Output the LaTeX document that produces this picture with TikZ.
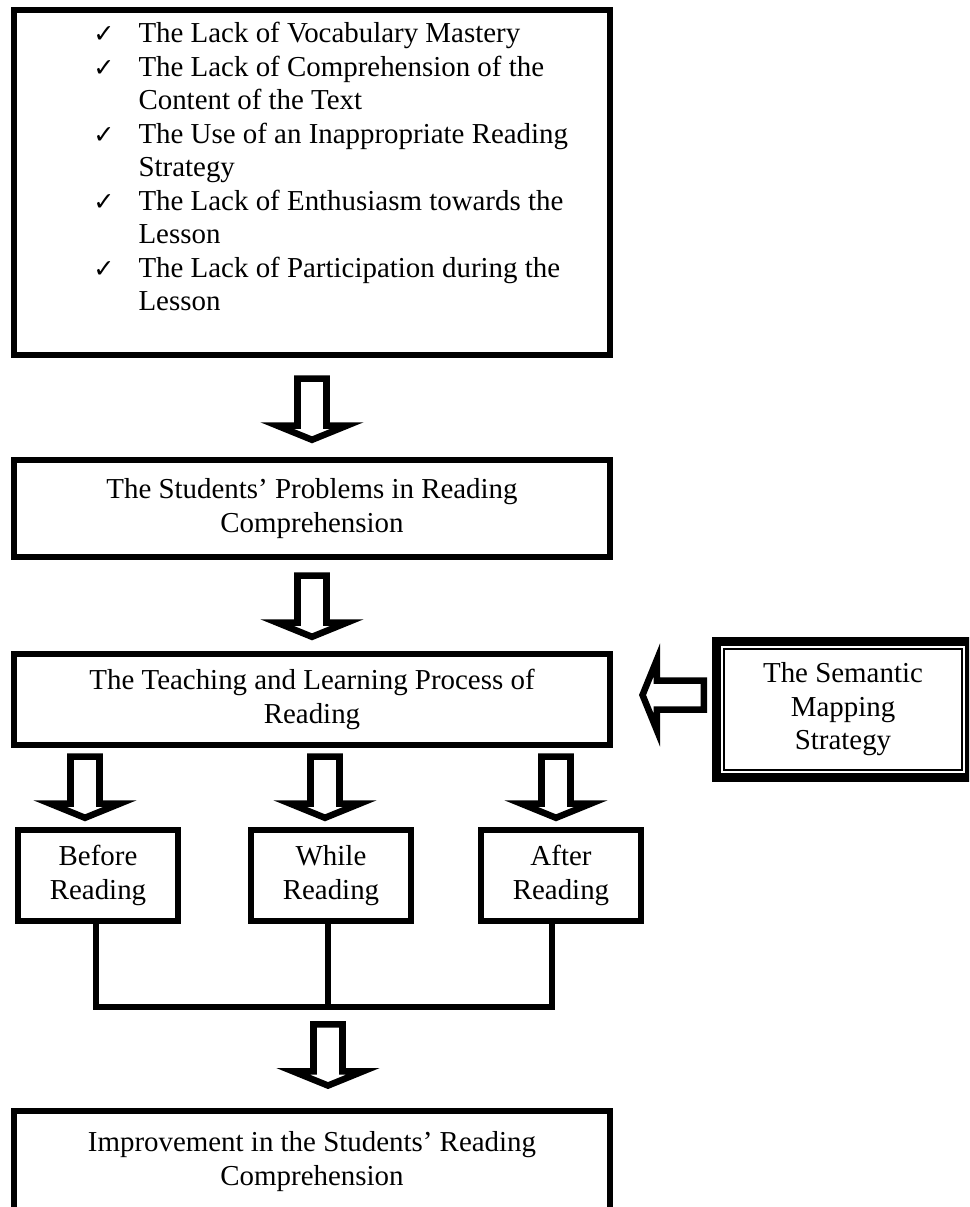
\documentclass[tikz,border=0pt]{standalone}
\usepackage{fontspec}
\setmainfont{Liberation Serif}
\newfontfamily\checkfont{DejaVu Sans}
\usetikzlibrary{calc,positioning}

\newcommand{\chk}{\makebox[18.7pt][l]{\checkfont\fontsize{10.5}{12}\selectfont ✓}}
\newcommand{\ind}{\hspace*{18.7pt}}
% hollow block arrow: #1 = start of the shaft, #2 = rotation
\newcommand{\hollowarrow}[2]{%
  \draw[blockarr, shift={(#1)}, rotate=#2]
    (-14.5,3.25) -- (14.5,3.25) -- (14.5,50.25) -- (35,50.25) -- (0,64.5)
    -- (-35,50.25) -- (-14.5,50.25) -- cycle;}

\begin{document}
\begin{tikzpicture}[
    x=0.415pt, y=-0.415pt,
    every node/.style={font=\fontsize{12}{13.9}\selectfont},
    box/.style={draw, line width=2.7pt, minimum width=247.3pt, align=center, inner sep=0pt},
    stage/.style={box, line width=2.5pt, minimum width=66.4pt, minimum height=37.8pt},
    strategy/.style={draw, line width=3.7pt, minimum width=105pt, minimum height=56.4pt, align=center},
    blockarr/.style={draw, line width=2.7pt, line join=miter, fill=white},
    joinline/.style={line width=2.5pt}
  ]
  \path[use as bounding box] (0,0) rectangle (969,1207);
  \clip (0,0) rectangle (969,1207);
  \fill[white] (0,0) rectangle (969,1207);

  \node[box, minimum height=143.2pt] (issues) at (312,182.5) {};
  \node[anchor=north west, inner sep=0pt, align=left] (list) at (93,22) {%
    \chk The Lack of Vocabulary Mastery\\
    \chk The Lack of Comprehension of the\\
    \ind Content of the Text\\
    \chk The Use of an Inappropriate Reading\\
    \ind Strategy\\
    \chk The Lack of Enthusiasm towards the\\
    \ind Lesson\\
    \chk The Lack of Participation during the\\
    \ind Lesson};

  \node[box, minimum height=40.3pt] (problems) at (312,508.5)
    {The Students’ Problems in Reading\\Comprehension};
  \node[box, minimum height=37.8pt] (process) at (312,699.5)
    {The Teaching and Learning Process of\\Reading};
  \node[strategy] (semantic) at (843,709.5) {The Semantic\\Mapping\\Strategy};
  \draw[line width=0.8pt] ($(semantic.north west)+(12,12)$) rectangle ($(semantic.south east)+(-12,-12)$);

  \node[stage] (before) at (98,875.5) {Before\\Reading};
  \node[stage] (while)  at (331,875.5) {While\\Reading};
  \node[stage] (after)  at (561,875.5) {After\\Reading};

  \node[box, minimum height=42pt] (improve) at (312,1161.5)
    {Improvement in the Students’ Reading\\Comprehension};

  % block arrows
  \coordinate (a1) at ($(issues.south)+(0,17)$);
  \coordinate (a2) at ($(problems.south)+(0,12)$);
  \coordinate (a3) at ($(semantic.west)+(-5,-14.5)$);
  \coordinate (a4) at ($(process.south -| before.south)+(-13,5)$);
  \coordinate (a5) at ($(process.south -| while.south)+(-6,5)$);
  \coordinate (a6) at ($(process.south -| after.south)+(-5,5)$);
  \coordinate (a7) at ($(while.south)+(-3,97)$);
  \hollowarrow{a1}{0}
  \hollowarrow{a2}{0}
  \hollowarrow{a3}{-90}
  \foreach \ar in {a4,a5,a6} {\hollowarrow{\ar}{0}}
  \hollowarrow{a7}{0}

  % joining lines
  \draw[joinline] ($(before.south)+(-2,0)$) -- ++(0,83) -| ($(after.south)+(-9,0)$);
  \draw[joinline] ($(while.south)+(-3,0)$) -- ++(0,83);
\end{tikzpicture}
\end{document}
